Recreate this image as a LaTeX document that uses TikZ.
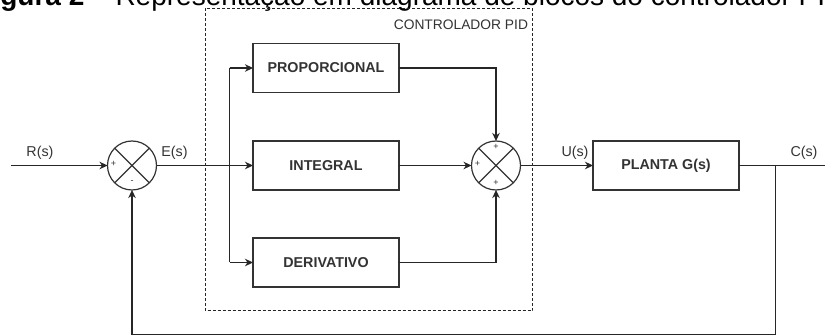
\documentclass[tikz,border=0pt]{standalone}
\usepackage{fontspec}
\setmainfont{Liberation Sans}
\usetikzlibrary{arrows.meta}
\begin{document}
\begin{tikzpicture}[x=1pt,y=-1pt,
  every node/.style={inner sep=0pt,outer sep=0pt},
  line/.style={line width=1.2pt,draw=black!85},
  arr/.style={line, -{Stealth[length=8pt,width=7.5pt,inset=2.5pt]}},
  blk/.style={draw=black!80,line width=1.2pt,minimum width=146pt,minimum height=49pt,font=\fontsize{14.3}{16}\selectfont\bfseries,text=black!80},
  sumc/.style={draw=black!80,line width=1.2pt,circle,minimum size=49pt},
  lbl/.style={font=\fontsize{14.3}{16}\selectfont,text=black!80},
  sgn/.style={font=\fontsize{9}{10}\selectfont,text=black!80}]
\useasboundingbox (0,0) rectangle (825,336);
\clip (0,0) rectangle (825,336);
\fill[white] (0,0) rectangle (825,336);
% caption (cut off at top)
\node[anchor=base west,font=\fontsize{28}{30}\selectfont] (cap) at (-24.5,5.5)
  {\textbf{Figura 2} – Representação em diagrama de blocos do controlador PID};
% dashed controller frame
\draw[line width=1pt,black!85,dash pattern=on 3pt off 2pt] (205,8.5) rectangle (532.5,311);
\node[lbl,anchor=east,font=\fontsize{13.8}{15}\selectfont] (pid) at (528,25) {CONTROLADOR PID};
% blocks
\node[blk] (P) at (326,68) {PROPORCIONAL};
\node[blk] (I) at (326,165.5) {INTEGRAL};
\node[blk] (D) at (326,262.5) {DERIVATIVO};
\node[blk] (G) at (666,165.5) {PLANTA G(s)};
% summing junctions
\node[sumc] (S1) at (132,165.5) {};
\draw[line width=1.1pt,black!80] (S1.north west) -- (S1.south east) (S1.north east) -- (S1.south west);
\node[sgn] (s1a) at (113.5,164) {+};
\node[sgn] (s1b) at (132,182.5) {-};
\node[sgn] (s2a) at (496,147) {+};
\node[sgn] (s2b) at (477.5,164) {+};
\node[sgn] (s2c) at (496,182.5) {+};
\node[sumc] (S2) at (496,165.5) {};
\draw[line width=1.1pt,black!80] (S2.north west) -- (S2.south east) (S2.north east) -- (S2.south west);
% coordinates
\coordinate (in) at (11,165.5);
\coordinate (brP) at (229.5,68);
\coordinate (brD) at (229.5,262.5);
\coordinate (pc) at (496,68);
\coordinate (dc) at (496,262.5);
\coordinate (out) at (826,165.5);
\coordinate (fb) at (775.5,165.5);
\coordinate (fb1) at (775.5,334.5);
\coordinate (fb2) at (132,334.5);
% connectors
\draw[arr] (in) -- (S1.west);
\draw[arr] (S1.east) -- (I.west);
\draw[line] (brP) -- (brD);
\draw[arr] (brP) -- (P.west);
\draw[arr] (brD) -- (D.west);
\draw[arr] (P.east) -- (pc) -- (S2.north);
\draw[arr] (I.east) -- (S2.west);
\draw[arr] (D.east) -- (dc) -- (S2.south);
\draw[arr] (S2.east) -- (G.west);
\draw[line] (G.east) -- (out);
\draw[arr] (fb) -- (fb1) -- (fb2) -- (S1.south);
% labels
\node[lbl] (R) at (40,153) {R(s)};
\node[lbl] (E) at (174.5,153) {E(s)};
\node[lbl] (U) at (575,153) {U(s)};
\node[lbl] (C) at (804,153) {C(s)};
\end{tikzpicture}
\end{document}
